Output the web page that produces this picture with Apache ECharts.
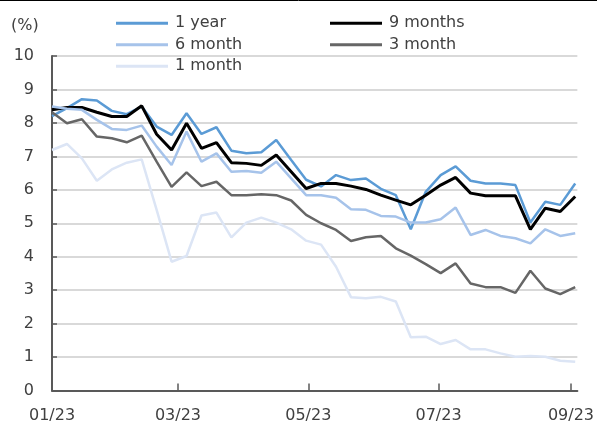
<!DOCTYPE html>
<html>
<head>
<meta charset="utf-8">
<script src="https://cdn.jsdelivr.net/npm/echarts@6/dist/echarts.min.js"></script>
<style>html,body{margin:0;padding:0;background:#fff}#c{width:597px;height:427px}</style>
</head>
<body>
<div id="c"></div>
<script>
const dates = ['2023-01-01','2023-01-08','2023-01-15','2023-01-22','2023-01-29','2023-02-05','2023-02-12','2023-02-19','2023-02-26','2023-03-05','2023-03-12','2023-03-19','2023-03-26','2023-04-02','2023-04-09','2023-04-16','2023-04-23','2023-04-30','2023-05-07','2023-05-14','2023-05-21','2023-05-28','2023-06-04','2023-06-11','2023-06-18','2023-06-25','2023-07-02','2023-07-09','2023-07-16','2023-07-23','2023-07-30','2023-08-06','2023-08-13','2023-08-20','2023-08-27','2023-09-03'];
const oneYear = [8.2,8.44,8.71,8.67,8.36,8.26,8.49,7.89,7.64,8.29,7.67,7.87,7.17,7.09,7.12,7.49,6.89,6.3,6.1,6.44,6.29,6.34,6.03,5.84,4.82,5.94,6.44,6.7,6.27,6.19,6.19,6.14,5.02,5.64,5.55,6.19];
const nineMonths = [8.39,8.46,8.46,8.32,8.19,8.19,8.51,7.66,7.19,7.99,7.24,7.41,6.81,6.79,6.73,7.04,6.54,6.04,6.19,6.19,6.11,6.01,5.84,5.69,5.55,5.84,6.14,6.37,5.9,5.82,5.82,5.82,4.82,5.45,5.35,5.8];
const sixMonth = [8.49,8.42,8.39,8.09,7.82,7.79,7.92,7.29,6.74,7.74,6.84,7.09,6.54,6.56,6.51,6.84,6.34,5.84,5.84,5.76,5.42,5.4,5.22,5.2,5.02,5.02,5.12,5.47,4.65,4.8,4.62,4.55,4.4,4.82,4.62,4.7];
const threeMonth = [8.32,7.99,8.11,7.59,7.54,7.42,7.62,6.84,6.09,6.52,6.11,6.24,5.84,5.84,5.87,5.84,5.68,5.25,5.0,4.8,4.47,4.58,4.62,4.25,4.03,3.78,3.51,3.8,3.2,3.09,3.09,2.92,3.58,3.05,2.88,3.09];
const oneMonth = [7.19,7.37,6.94,6.27,6.61,6.81,6.91,5.4,3.85,4.02,5.23,5.32,4.58,5.02,5.17,5.02,4.82,4.48,4.36,3.7,2.79,2.76,2.8,2.66,1.59,1.61,1.39,1.51,1.23,1.23,1.11,1.01,1.03,1.01,0.89,0.86];
const tickDates = ['2023-01-01','2023-03-01','2023-05-01','2023-07-01','2023-09-01'];
const tickLabels = ['01/23','03/23','05/23','07/23','09/23'];
const yTicks = [0,1,2,3,4,5,6,7,8,9,10];

const DAY = 86400000;
const base = Date.parse('2023-01-01T00:00:00Z');
const toDay = s => Math.round((Date.parse(s + 'T00:00:00Z') - base) / DAY);
const xDays = dates.map(toDay);
const tickDays = tickDates.map(toDay);
const pair = arr => arr.map((v, i) => [xDays[i], v]);

const FONT = 'DejaVu Sans';
const TXT = '#404040';

const seriesDefs = [
  {name: '1 year', data: oneYear, color: '#5b9bd5', width: 2.5},
  {name: '9 months', data: nineMonths, color: '#000000', width: 3},
  {name: '6 month', data: sixMonth, color: '#a6c3ea', width: 2.5},
  {name: '3 month', data: threeMonth, color: '#666666', width: 2.5},
  {name: '1 month', data: oneMonth, color: '#dce5f5', width: 2.5}
];

const legendBase = {
  orient: 'vertical', padding: 0, itemGap: 0, icon: 'rect',
  itemWidth: 52, itemHeight: 3,
  textStyle: {fontFamily: FONT, fontSize: 16, color: TXT, lineHeight: 21.5, padding: [0,0,0,2]}
};

const chart = echarts.init(document.getElementById('c'), null, {renderer: 'canvas'});
chart.setOption({
  animation: false,
  backgroundColor: '#fff',
  grid: {left: 52, right: 12, top: 56, bottom: 36.5, containLabel: false},
  legend: [
    Object.assign({}, legendBase, {left: 116, top: 12.5, data: ['1 year','6 month','1 month']}),
    Object.assign({}, legendBase, {left: 330, top: 12.5, data: ['9 months','3 month']})
  ],
  graphic: [
    {type: 'text', left: 11, top: 18, style: {text: '(%)', font: '16px "DejaVu Sans"', fill: TXT}},
    {type: 'line', shape: {x1: 0, y1: 0.5, x2: 597, y2: 0.5}, style: {stroke: '#000', lineWidth: 1}}
  ],
  xAxis: {
    type: 'value', min: 0, max: 246,
    splitLine: {show: false},
    axisLine: {show: true, lineStyle: {color: '#595959', width: 2}},
    axisTick: {show: true, inside: true, length: 7, customValues: tickDays, lineStyle: {color: '#595959', width: 1.5}},
    axisLabel: {
      customValues: tickDays, margin: 17,
      fontFamily: FONT, fontSize: 16, color: TXT,
      formatter: v => tickLabels[tickDays.indexOf(v)]
    }
  },
  yAxis: {
    type: 'value', min: yTicks[0], max: yTicks[yTicks.length - 1], interval: 1,
    splitLine: {show: true, lineStyle: {color: '#d9d9d9', width: 2}},
    axisLine: {show: true, lineStyle: {color: '#595959', width: 2}},
    axisTick: {show: true, inside: true, length: 5, lineStyle: {color: '#595959', width: 1.5}},
    axisLabel: {margin: 18, fontFamily: FONT, fontSize: 16, color: TXT}
  },
  series: seriesDefs.map(s => ({
    name: s.name, type: 'line', data: pair(s.data), symbol: 'none',
    color: s.color, itemStyle: {color: s.color},
    lineStyle: {color: s.color, width: s.width}
  }))
});
</script>
</body>
</html>
